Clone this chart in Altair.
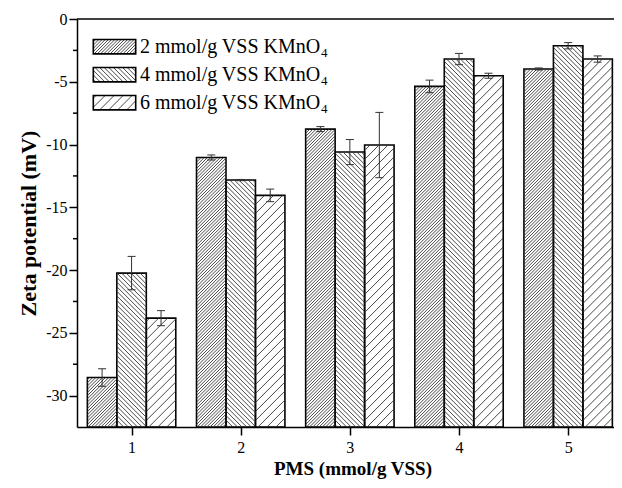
import altair as alt
import pandas as pd
import numpy as np

# ---------------- data ----------------
groups = [1, 2, 3, 4, 5]
series = ["2 mmol/g VSS KMnO", "4 mmol/g VSS KMnO", "6 mmol/g VSS KMnO"]
subscript = "4"
vals_2 = [-28.56, -11.03, -8.77, -5.37, -3.98]
vals_4 = [-20.24, -12.83, -10.60, -3.19, -2.13]
vals_6 = [-23.83, -14.05, -10.04, -4.52, -3.19]
err_2 = [0.70, 0.20, 0.20, 0.50, 0.08]
err_4 = [1.33, 0.05, 1.00, 0.45, 0.25]
err_6 = [0.60, 0.50, 2.60, 0.20, 0.25]
y_major = [0, -5, -10, -15, -20, -25, -30]
y_minor = [-2.5, -7.5, -12.5, -17.5, -22.5, -27.5]

# ---------------- layout / style ----------------
PAD_L, PAD_T, PAD_B = 69, 11, 53
W, H = 537, 408
XMIN, XMAX = 0.5, 5.42
YMIN, YMAX = -32.5, 0.0
PXX = W / (XMAX - XMIN)
PXY = H / (YMAX - YMIN)
BAR_W = 0.27
OFFS = [-BAR_W, 0.0, BAR_W]
HATCH = [(1.0, 3.2), (-1.0, 4.6), (1.0, 9.0)]  # slope, vertical period (px)
FONT = "Liberation Serif"
CAP = 4.0 / PXX

xs = alt.Scale(domain=[XMIN, XMAX], nice=False, zero=False)
ys = alt.Scale(domain=[YMIN, YMAX], nice=False, zero=False)

AX = alt.Axis(
    values=groups, format="d", title="PMS (mmol/g VSS)", tickSize=8,
    labelPadding=4, titleX=W / 2 + 7, titleY=47, titleBaseline="alphabetic",
    titleFontSize=19, titleFontWeight="bold", grid=False)
AY = alt.Axis(
    values=y_major, labelExpr="'' + datum.value", tickSize=8, labelPadding=2,
    title="Zeta potential (mV)", titleFontSize=22, titleFontWeight="bold",
    titlePadding=5, grid=False)


def hatch(x0, x1, y0, y1, slope, period):
    wb = (x1 - x0) * PXX
    hb = (y1 - y0) * PXY
    rows = []
    if slope > 0:
        cs = np.arange(-slope * wb, hb, period)
    else:
        cs = np.arange(period * 0.5, hb - slope * wb, period)
    for c in cs:
        if slope > 0:
            ua = max(0.0, -c / slope)
            ub = min(wb, (hb - c) / slope)
        else:
            ua = max(0.0, (hb - c) / slope)
            ub = min(wb, -c / slope)
        if ub - ua < 0.4:
            continue
        va = slope * ua + c
        vb = slope * ub + c
        rows.append(dict(x=x0 + ua / PXX, x2=x0 + ub / PXX,
                         y=y0 + va / PXY, y2=y0 + vb / PXY))
    return rows


vals = [vals_2, vals_4, vals_6]
errs = [err_2, err_4, err_6]

bar_rows, hatch_rows, err_rows = [], [], []
for s in range(3):
    for g, v, e in zip(groups, vals[s], errs[s]):
        cx = g + OFFS[s]
        x0, x1 = cx - BAR_W / 2, cx + BAR_W / 2
        bar_rows.append(dict(x=x0, x2=x1, y=v, y2=YMIN, s=series[s]))
        hatch_rows += hatch(x0, x1, YMIN, v, *HATCH[s])
        err_rows.append(dict(x=cx, lo=v - e, hi=v + e, c0=cx - CAP, c1=cx + CAP))


def dx(px):
    return XMIN + px / PXX


def dy(py):
    return YMAX - py / PXY


LEG_X0, LEG_X1 = 16.3, 58.7
LEG_ROWS = [27.7, 55.7, 83.7]
LEG_HALF = 7.2
TEXT_X = 63.0
LEG_FS = 20
SUB_DX = 9.03 * LEG_FS + 0.5

leg_box, leg_text, leg_sub = [], [], []
for s in range(3):
    yc = LEG_ROWS[s]
    bx0, bx1 = dx(LEG_X0), dx(LEG_X1)
    by0, by1 = dy(yc + LEG_HALF), dy(yc - LEG_HALF)
    leg_box.append(dict(x=bx0, x2=bx1, y=by1, y2=by0))
    hatch_rows += hatch(bx0, bx1, by0, by1, *HATCH[s])
    leg_text.append(dict(x=dx(TEXT_X), y=dy(yc), t=series[s]))
    leg_sub.append(dict(x=dx(TEXT_X + SUB_DX), y=dy(yc + 6.5), t=subscript))

bars_df = pd.DataFrame(bar_rows)
hatch_df = pd.DataFrame(hatch_rows)
err_df = pd.DataFrame(err_rows)
box_df = pd.DataFrame(leg_box)
text_df = pd.DataFrame(leg_text)
sub_df = pd.DataFrame(leg_sub)
minor_df = pd.DataFrame({"v": y_minor})
top_df = pd.DataFrame({"v": [YMAX]})

# ---------------- layers ----------------
outline = alt.Chart(bars_df).mark_rect(fill=None, stroke="black", strokeWidth=1.6).encode(
    x=alt.X("x:Q", scale=xs, axis=AX), x2="x2:Q",
    y=alt.Y("y:Q", scale=ys, axis=AY), y2="y2:Q",
)

hatch_layer = alt.Chart(hatch_df).mark_rule(stroke="#333333", strokeWidth=0.9).encode(
    x=alt.X("x:Q", scale=xs, axis=AX), x2="x2:Q",
    y=alt.Y("y:Q", scale=ys, axis=AY), y2="y2:Q",
)

err_line = alt.Chart(err_df).mark_rule(stroke="#333333", strokeWidth=1).encode(
    x=alt.X("x:Q", scale=xs, axis=AX),
    y=alt.Y("lo:Q", scale=ys, axis=AY), y2="hi:Q",
)
cap_lo = alt.Chart(err_df).mark_rule(stroke="#333333", strokeWidth=1).encode(
    x=alt.X("c0:Q", scale=xs, axis=AX), x2="c1:Q",
    y=alt.Y("lo:Q", scale=ys, axis=AY),
)
cap_hi = alt.Chart(err_df).mark_rule(stroke="#333333", strokeWidth=1).encode(
    x=alt.X("c0:Q", scale=xs, axis=AX), x2="c1:Q",
    y=alt.Y("hi:Q", scale=ys, axis=AY),
)

box_layer = alt.Chart(box_df).mark_rect(fill=None, stroke="black", strokeWidth=1.6).encode(
    x=alt.X("x:Q", scale=xs, axis=AX), x2="x2:Q",
    y=alt.Y("y:Q", scale=ys, axis=AY), y2="y2:Q",
)

text_layer = alt.Chart(text_df).mark_text(
    align="left", baseline="middle", font=FONT, fontSize=LEG_FS, color="black").encode(
    x=alt.X("x:Q", scale=xs, axis=AX),
    y=alt.Y("y:Q", scale=ys, axis=AY),
    text="t:N",
)
sub_layer = alt.Chart(sub_df).mark_text(
    align="left", baseline="middle", font=FONT, fontSize=13, color="black").encode(
    x=alt.X("x:Q", scale=xs, axis=AX),
    y=alt.Y("y:Q", scale=ys, axis=AY),
    text="t:N",
)

minor_layer = alt.Chart(minor_df).mark_rule(stroke="black", strokeWidth=1.5).encode(
    y=alt.Y("v:Q", scale=ys, axis=AY),
    x=alt.value(-4), x2=alt.value(0),
)

top_rule = alt.Chart(top_df).mark_rule(stroke="black", strokeWidth=1.5).encode(
    y=alt.Y("v:Q", scale=ys, axis=AY),
)

chart = alt.layer(
    outline, hatch_layer, err_line, cap_lo, cap_hi,
    box_layer, text_layer, sub_layer, minor_layer, top_rule,
).properties(
    width=W, height=H,
    padding={"left": PAD_L, "top": PAD_T, "right": 0, "bottom": PAD_B},
    autosize=alt.AutoSizeParams(type="none"),
).configure_view(stroke=None).configure_axis(
    labelFont=FONT, titleFont=FONT, labelFontSize=16, labelColor="black",
    titleColor="black", tickColor="black", domainColor="black",
    domainWidth=1.5, tickWidth=1.5,
)

chart.save("out.html", embed_options={"renderer": "svg", "actions": False})
